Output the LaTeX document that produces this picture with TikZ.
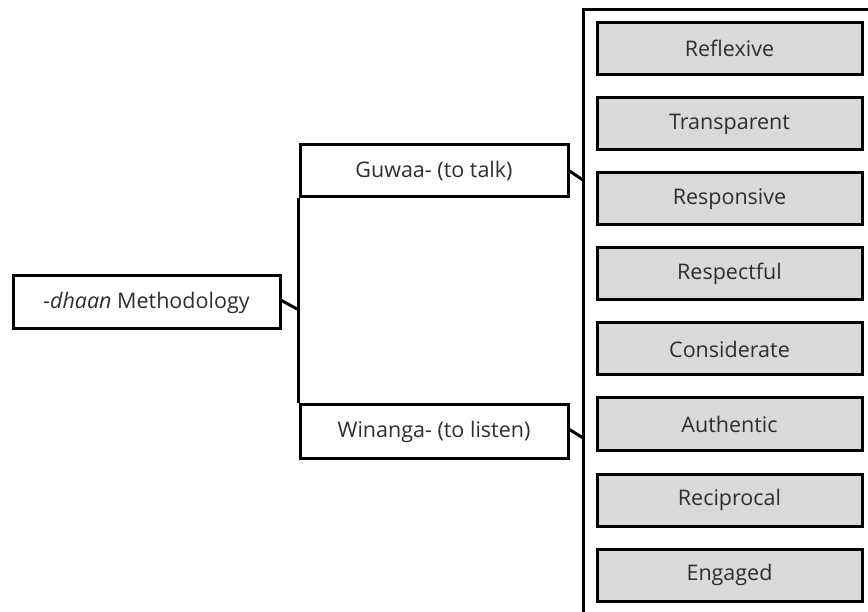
\documentclass[tikz,border=0pt]{standalone}
\usepackage{fontspec}
\setmainfont{Open Sans}
\begin{document}
\begin{tikzpicture}[x=1pt,y=-1pt,
  box/.style={draw=black,line width=3pt,rectangle,inner sep=0pt,
    minimum width=267pt,minimum height=53pt,font=\fontsize{21.5}{24}\selectfont,text=black!82},
  gbox/.style={box,fill=black!15,minimum width=265pt,minimum height=52pt},
  conn/.style={line width=3pt}]
\useasboundingbox (0,0) rectangle (868,612);
\node[box] (root) at (146.5,302.5) {\textit{-dhaan} Methodology};
\node[box,minimum width=268pt,minimum height=52pt] (guwaa) at (434,171) {Guwaa- (to talk)};
\node[box,minimum width=268pt] (winanga) at (434,431.5) {Winanga- (to listen)};
\foreach \t/\y [count=\i] in {Reflexive/48.5,Transparent/124,Responsive/199,Respectful/274,Considerate/349,Authentic/424,Reciprocal/500,Engaged/575}
  \node[gbox] (q\i) at (729.5,\y) {\t};
\coordinate (btop) at (880,10);
\coordinate (bcorner) at (583,10);
\coordinate (bbottom) at (583,620);
\draw[conn] (btop) -- (bcorner) -- (bbottom);
\draw[conn] (guwaa.south west) -- (winanga.north west);
\coordinate (v1) at (299,310);
\draw[conn] ([yshift=2pt]root.east) -- (v1);
\coordinate (v2) at (583,180);
\draw[conn] (guwaa.east) -- (v2);
\coordinate (v3) at (583,438);
\draw[conn] ([yshift=2pt]winanga.east) -- (v3);
\end{tikzpicture}
\end{document}
